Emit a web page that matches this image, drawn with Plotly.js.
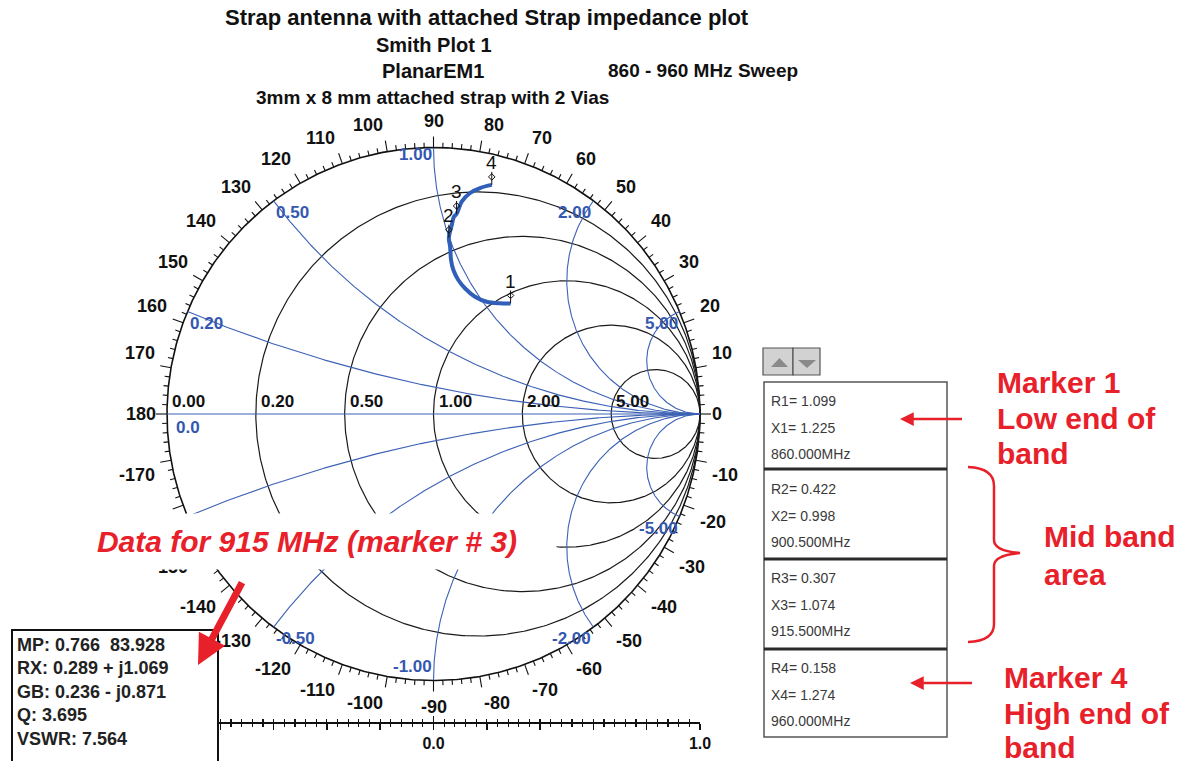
<!DOCTYPE html>
<html>
<head>
<meta charset="utf-8">
<script src="https://cdn.plot.ly/plotly-3.0.1.min.js"></script>
<style>
  html, body { margin: 0; padding: 0; background: #fff; }
  #chart { width: 1184px; height: 761px; }
</style>
</head>
<body>
<div id="chart"></div>
<script>
// ---- sweep data: normalised impedance z = R + jX, 860 -> 960 MHz ----
const sweepR = [1.099, 1.040, 0.957, 0.863, 0.763, 0.687, 0.612, 0.548, 0.473, 0.422, 0.359, 0.319, 0.307, 0.247, 0.205, 0.179, 0.158];
const sweepX = [1.225, 1.129, 1.030, 0.971, 0.943, 0.935, 0.941, 0.958, 0.986, 0.998, 1.035, 1.057, 1.074, 1.111, 1.158, 1.211, 1.274];

// ---- markers ----
const markerIds = ['1', '2', '3', '4'];
const markerR = [1.099, 0.422, 0.307, 0.158];
const markerX = [1.225, 0.998, 1.074, 1.274];
const markerFreq = ['860.000', '900.500', '915.500', '960.000'];

// ---- Smith grid ----
const resistanceGrid = [0.2, 0.5, 1, 2, 5];
const realAxisValues = [0, 0.2, 0.5, 1, 2, 5];
const realAxisLabels = ['0.00', '0.20', '0.50', '1.00', '2.00', '5.00'];
const reactanceGrid = [0.2, 0.5, 1, 2, 5, -0.2, -0.5, -1, -2, -5];
const reactanceLabels = ['0.20', '0.50', '1.00', '2.00', '5.00', '-0.20', '-0.50', '-1.00', '-2.00', '-5.00'];

// ---- angle scale round the rim (degrees) ----
const angleLabels = ['180', '170', '160', '150', '140', '130', '120', '110', '100', '90', '80', '70', '60', '50', '40', '30', '20', '10', '0',
                     '-10', '-20', '-30', '-40', '-50', '-60', '-70', '-80', '-90', '-100', '-110', '-120', '-130', '-140', '-150', '-160', '-170'];

// ---- linear reflection scale under the chart ----
const scaleMajor = [-1, -0.8, -0.6, -0.4, -0.2, 0, 0.2, 0.4, 0.6, 0.8, 1];
const scaleText = ['', '', '', '', '', '0.0', '', '', '', '', '1.0'];

// ---- cursor readout ----
const readoutLines = ['MP: 0.766\u00A0\u00A083.928', 'RX: 0.289 + j1.069', 'GB: 0.236 - j0.871', 'Q: 3.695', 'VSWR: 7.564'];

// ---------------------------------------------------------------------
const FONT = 'Arial, "Liberation Sans", sans-serif';
const W = 1184, H = 761;
const CX = 433.5, CY = 414, RAD = 266.5;        // chart centre / radius (px)
const PX = p => p / W, PY = p => 1 - p / H;     // px -> paper
const GRID_BLUE = '#3d62b5', LABEL_BLUE = '#3458b0', CURVE_BLUE = '#2f5fb8', RED = '#e8202a';

function gamma(r, x) {
  const d = (r + 1) * (r + 1) + x * x;
  return [(r * r + x * x - 1) / d, 2 * x / d];
}

const traces = [];
const annotations = [];
const shapes = [];

// outer circle
{
  const xs = [], ys = [];
  for (let i = 0; i <= 720; i++) { const t = i / 720 * 2 * Math.PI; xs.push(Math.cos(t)); ys.push(Math.sin(t)); }
  traces.push({ x: xs, y: ys, mode: 'lines', line: { color: '#111', width: 1.6 }, hoverinfo: 'skip' });
}

// constant-resistance circles
{
  const xs = [], ys = [];
  resistanceGrid.forEach(r => {
    const c = r / (1 + r), rr = 1 / (1 + r);
    for (let i = 0; i <= 540; i++) { const t = i / 540 * 2 * Math.PI; xs.push(c + rr * Math.cos(t)); ys.push(rr * Math.sin(t)); }
    xs.push(null); ys.push(null);
  });
  traces.push({ x: xs, y: ys, mode: 'lines', line: { color: '#1a1a1a', width: 1.2 }, hoverinfo: 'skip' });
}

// constant-reactance arcs + real axis
{
  const xs = [], ys = [];
  reactanceGrid.forEach(xv => {
    const N = 500;
    for (let i = 0; i <= N; i++) {
      const r = Math.tan(i / N * (Math.PI / 2 - 1e-4));
      const g = gamma(r, xv); xs.push(g[0]); ys.push(g[1]);
    }
    xs.push(1, null); ys.push(0, null);
  });
  xs.push(-1, 1); ys.push(0, 0);
  traces.push({ x: xs, y: ys, mode: 'lines', line: { color: GRID_BLUE, width: 1.1 }, hoverinfo: 'skip' });
}

// rim ticks every 2 degrees, long ones every 10
{
  const xs = [], ys = [];
  for (let d = -178; d <= 180; d += 2) {
    const t = d * Math.PI / 180, len = (d % 10 === 0 ? 11 : 5) / RAD;
    xs.push(Math.cos(t), Math.cos(t) * (1 + len), null);
    ys.push(Math.sin(t), Math.sin(t) * (1 + len), null);
  }
  traces.push({ x: xs, y: ys, mode: 'lines', line: { color: '#111', width: 1.1 }, hoverinfo: 'skip' });
}

// impedance sweep
{
  const g = sweepR.map((r, i) => gamma(r, sweepX[i]));
  traces.push({ x: g.map(p => p[0]), y: g.map(p => p[1]), mode: 'lines',
    line: { color: CURVE_BLUE, width: 4, shape: 'spline', smoothing: 1 }, hoverinfo: 'skip' });
}

// marker pins
{
  const sx = [], sy = [], dx = [], dy = [];
  markerR.forEach((r, i) => {
    const g = gamma(r, markerX[i]);
    sx.push(g[0], g[0], null); sy.push(g[1], g[1] + 13 / RAD, null);
    dx.push(g[0]); dy.push(g[1] + 8 / RAD);
    annotations.push({ x: g[0], y: g[1], xref: 'x', yref: 'y', text: markerIds[i], showarrow: false,
      xanchor: 'center', yanchor: 'middle', yshift: 22, font: { family: FONT, size: 19, color: '#111' } });
  });
  traces.push({ x: sx, y: sy, mode: 'lines', line: { color: '#111', width: 1 }, hoverinfo: 'skip' });
  traces.push({ x: dx, y: dy, mode: 'markers', marker: { symbol: 'diamond-open', size: 5, color: '#111', line: { width: 1 } }, hoverinfo: 'skip' });
}

// dummy traces so the scale axes get drawn
traces.push({ x: [0], y: [-5], xaxis: 'x2', yaxis: 'y2', mode: 'markers', marker: { opacity: 0 }, hoverinfo: 'skip' });
traces.push({ x: [0], y: [-5], xaxis: 'x3', yaxis: 'y2', mode: 'markers', marker: { opacity: 0 }, hoverinfo: 'skip' });

// rim angle labels
angleLabels.forEach(txt => {
  const t = (+txt) * Math.PI / 180, c = Math.cos(t), s = Math.sin(t);
  const r = Math.abs(s) < 0.1 ? 276 : 281;
  annotations.push({ x: c * r / RAD, y: s * r / RAD, xref: 'x', yref: 'y', text: txt, showarrow: false,
    xanchor: c > 0.1 ? 'left' : (c < -0.1 ? 'right' : 'center'),
    yanchor: s > 0.1 ? 'bottom' : (s < -0.1 ? 'top' : 'middle'),
    font: { family: FONT, size: 18, color: '#111', weight: 'bold' } });
});

// real-axis labels
realAxisValues.forEach((v, i) => {
  const g = gamma(v, 0);
  annotations.push({ x: g[0], y: 0, xref: 'x', yref: 'y', text: '<b>' + realAxisLabels[i] + '</b>', showarrow: false,
    xanchor: 'left', yanchor: 'bottom', xshift: 3, yshift: 1, font: { family: FONT, size: 17, color: '#111' } });
});
annotations.push({ x: -1, y: 0, xref: 'x', yref: 'y', text: '<b>0.0</b>', showarrow: false,
  xanchor: 'left', yanchor: 'top', xshift: 7, yshift: -2, font: { family: FONT, size: 17, color: LABEL_BLUE } });

// reactance labels at the rim
reactanceGrid.forEach((xv, i) => {
  const g = gamma(0, xv);
  const low = g[1] < -0.99, top = g[1] > 0.99;
  annotations.push({ x: g[0], y: g[1], xref: 'x', yref: 'y', text: '<b>' + reactanceLabels[i] + '</b>', showarrow: false,
    xanchor: g[0] >= -0.01 ? 'right' : 'left', yanchor: low ? 'bottom' : 'top',
    yshift: low ? 3 : (top ? 5 : 0), font: { family: FONT, size: 17, color: LABEL_BLUE } });
});

// caption band over the chart
annotations.push({ x: PX(307), y: PY(541.5), xref: 'paper', yref: 'paper', xanchor: 'center', yanchor: 'middle',
  text: '<b><i>Data for 915 MHz (marker # 3)</i></b>', showarrow: false, width: 496, height: 53,
  bgcolor: '#ffffff', font: { family: FONT, size: 30, color: RED } });

// readout box
annotations.push({ x: PX(11), y: PY(629), xref: 'paper', yref: 'paper', xanchor: 'left', yanchor: 'top',
  text: readoutLines.map(l => '<b>' + l + '</b>').join('<br>'), showarrow: false, align: 'left', valign: 'top',
  width: 196, height: 150, bgcolor: '#ffffff', bordercolor: '#111', borderwidth: 2, borderpad: 4,
  font: { family: FONT, size: 18, color: '#222' } });

// arrow into the readout
annotations.push({ x: PX(198), y: PY(665), xref: 'paper', yref: 'paper', text: ' ', showarrow: true,
  ax: 47, ay: -88, arrowhead: 2, arrowsize: 0.85, arrowwidth: 7, arrowcolor: RED });

// titles
const titleFont = (size) => ({ family: FONT, size: size, color: '#111' });
const titles = [['Strap antenna with attached Strap impedance plot', 487, 18, 22],
                ['Smith Plot 1', 434, 45, 20],
                ['PlanarEM1', 433, 71, 20],
                ['860 - 960 MHz Sweep', 703, 71, 19],
                ['3mm x 8 mm attached strap with 2 Vias', 432, 97, 19]];
titles.forEach(t => annotations.push({ x: PX(t[1]), y: PY(t[2]), xref: 'paper', yref: 'paper', showarrow: false,
  xanchor: 'center', yanchor: 'middle', text: '<b>' + t[0] + '</b>', font: titleFont(t[3]) }));

// marker value panel
shapes.push({ type: 'rect', xref: 'paper', yref: 'paper', x0: PX(763), x1: PX(793), y0: PY(375), y1: PY(348), fillcolor: '#d2d2d2', line: { color: '#555', width: 1.2 }, layer: 'above' });
shapes.push({ type: 'rect', xref: 'paper', yref: 'paper', x0: PX(793), x1: PX(820), y0: PY(375), y1: PY(348), fillcolor: '#d2d2d2', line: { color: '#555', width: 1.2 }, layer: 'above' });
shapes.push({ type: 'path', xref: 'paper', yref: 'paper', layer: 'above', fillcolor: '#8a8a8a', line: { width: 0 },
  path: `M ${PX(771)} ${PY(367)} L ${PX(779.5)} ${PY(358)} L ${PX(788)} ${PY(367)} Z` });
shapes.push({ type: 'path', xref: 'paper', yref: 'paper', layer: 'above', fillcolor: '#8a8a8a', line: { width: 0 },
  path: `M ${PX(798)} ${PY(360)} L ${PX(816)} ${PY(360)} L ${PX(807)} ${PY(368)} Z` });
shapes.push({ type: 'rect', xref: 'paper', yref: 'paper', x0: PX(764), x1: PX(947), y0: PY(737), y1: PY(382), fillcolor: '#ffffff', line: { color: '#555', width: 1.5 }, layer: 'above' });
[469, 559, 649].forEach(yy => shapes.push({ type: 'line', xref: 'paper', yref: 'paper', x0: PX(764), x1: PX(947), y0: PY(yy), y1: PY(yy), line: { color: '#2a2a2a', width: 3 }, layer: 'above' }));

const boxTop = [382, 470, 559, 649];
markerIds.forEach((id, i) => {
  const rows = ['R' + id + '= ' + markerR[i].toFixed(3), 'X' + id + '= ' + markerX[i].toFixed(3), markerFreq[i] + 'MHz'];
  rows.forEach((txt, k) => annotations.push({ x: PX(769), y: PY(boxTop[i] + 19 + k * 26.5), xref: 'paper', yref: 'paper', showarrow: false,
    xanchor: 'left', yanchor: 'middle', text: txt, font: { family: FONT, size: 14, color: '#3a3a3a' } }));
});

// red notes
const noteFont = { family: FONT, size: 30, color: RED };
const notes = [['Marker 1', 995, 382], ['Low end of', 995, 418], ['band', 995, 453],
               ['Mid band', 1042, 536], ['area', 1042, 574],
               ['Marker 4', 1002, 677], ['High end of', 1002, 713], ['band', 1002, 747]];
notes.forEach(n => annotations.push({ x: PX(n[1]), y: PY(n[2]), xref: 'paper', yref: 'paper', showarrow: false,
  xanchor: 'left', yanchor: 'middle', text: '<b>' + n[0] + '</b>', font: noteFont }));
annotations.push({ x: PX(900), y: PY(419), xref: 'paper', yref: 'paper', text: ' ', showarrow: true, ax: 65, ay: 0,
  arrowhead: 2, arrowsize: 1.1, arrowwidth: 2.5, arrowcolor: RED });
annotations.push({ x: PX(910), y: PY(683), xref: 'paper', yref: 'paper', text: ' ', showarrow: true, ax: 65, ay: 0,
  arrowhead: 2, arrowsize: 1.1, arrowwidth: 2.5, arrowcolor: RED });

// brace for the mid-band markers
shapes.push({ type: 'path', xref: 'paper', yref: 'paper', layer: 'above', line: { color: RED, width: 2.5 },
  path: `M ${PX(968)} ${PY(467)} Q ${PX(994)} ${PY(468)} ${PX(994)} ${PY(486)} L ${PX(994)} ${PY(540)} ` +
        `Q ${PX(994)} ${PY(551)} ${PX(1020)} ${PY(553)} Q ${PX(994)} ${PY(555)} ${PX(994)} ${PY(566)} ` +
        `L ${PX(994)} ${PY(624)} Q ${PX(994)} ${PY(641)} ${PX(968)} ${PY(642)}` });

const scaleAxis = {
  domain: [PX(CX - RAD), PX(CX + RAD)], range: [-1, 1], anchor: 'y2', fixedrange: true,
  showgrid: false, zeroline: false, tickmode: 'array', tickvals: scaleMajor, ticktext: scaleText,
  ticklen: 6, tickwidth: 1.5, tickcolor: '#111',
  minor: { tickmode: 'linear', tick0: 0, dtick: 0.04, ticklen: 3, tickwidth: 1.2, tickcolor: '#111', showgrid: false }
};

const layout = {
  width: W, height: H, margin: { l: 0, r: 0, t: 0, b: 0 }, autosize: false,
  paper_bgcolor: '#ffffff', plot_bgcolor: 'rgba(0,0,0,0)', showlegend: false,
  xaxis: { range: [-CX / RAD, (W - CX) / RAD], domain: [0, 1], visible: false, fixedrange: true },
  yaxis: { range: [-(H - CY) / RAD, CY / RAD], domain: [0, 1], visible: false, fixedrange: true },
  xaxis2: Object.assign({}, scaleAxis, { ticks: 'outside', showline: true, linecolor: '#111', linewidth: 2,
    tickfont: { family: FONT, size: 16, color: '#111', weight: 'bold' },
    minor: Object.assign({}, scaleAxis.minor, { ticks: 'outside' }) }),
  xaxis3: Object.assign({}, scaleAxis, { overlaying: 'x2', ticks: 'inside', showline: false, showticklabels: false,
    minor: Object.assign({}, scaleAxis.minor, { ticks: 'inside' }) }),
  yaxis2: { domain: [PY(721.5), PY(721.5) + 0.02], range: [0, 1], visible: false, fixedrange: true },
  annotations: annotations, shapes: shapes
};

Plotly.newPlot('chart', traces, layout, { staticPlot: true, displayModeBar: false });
</script>
</body>
</html>
